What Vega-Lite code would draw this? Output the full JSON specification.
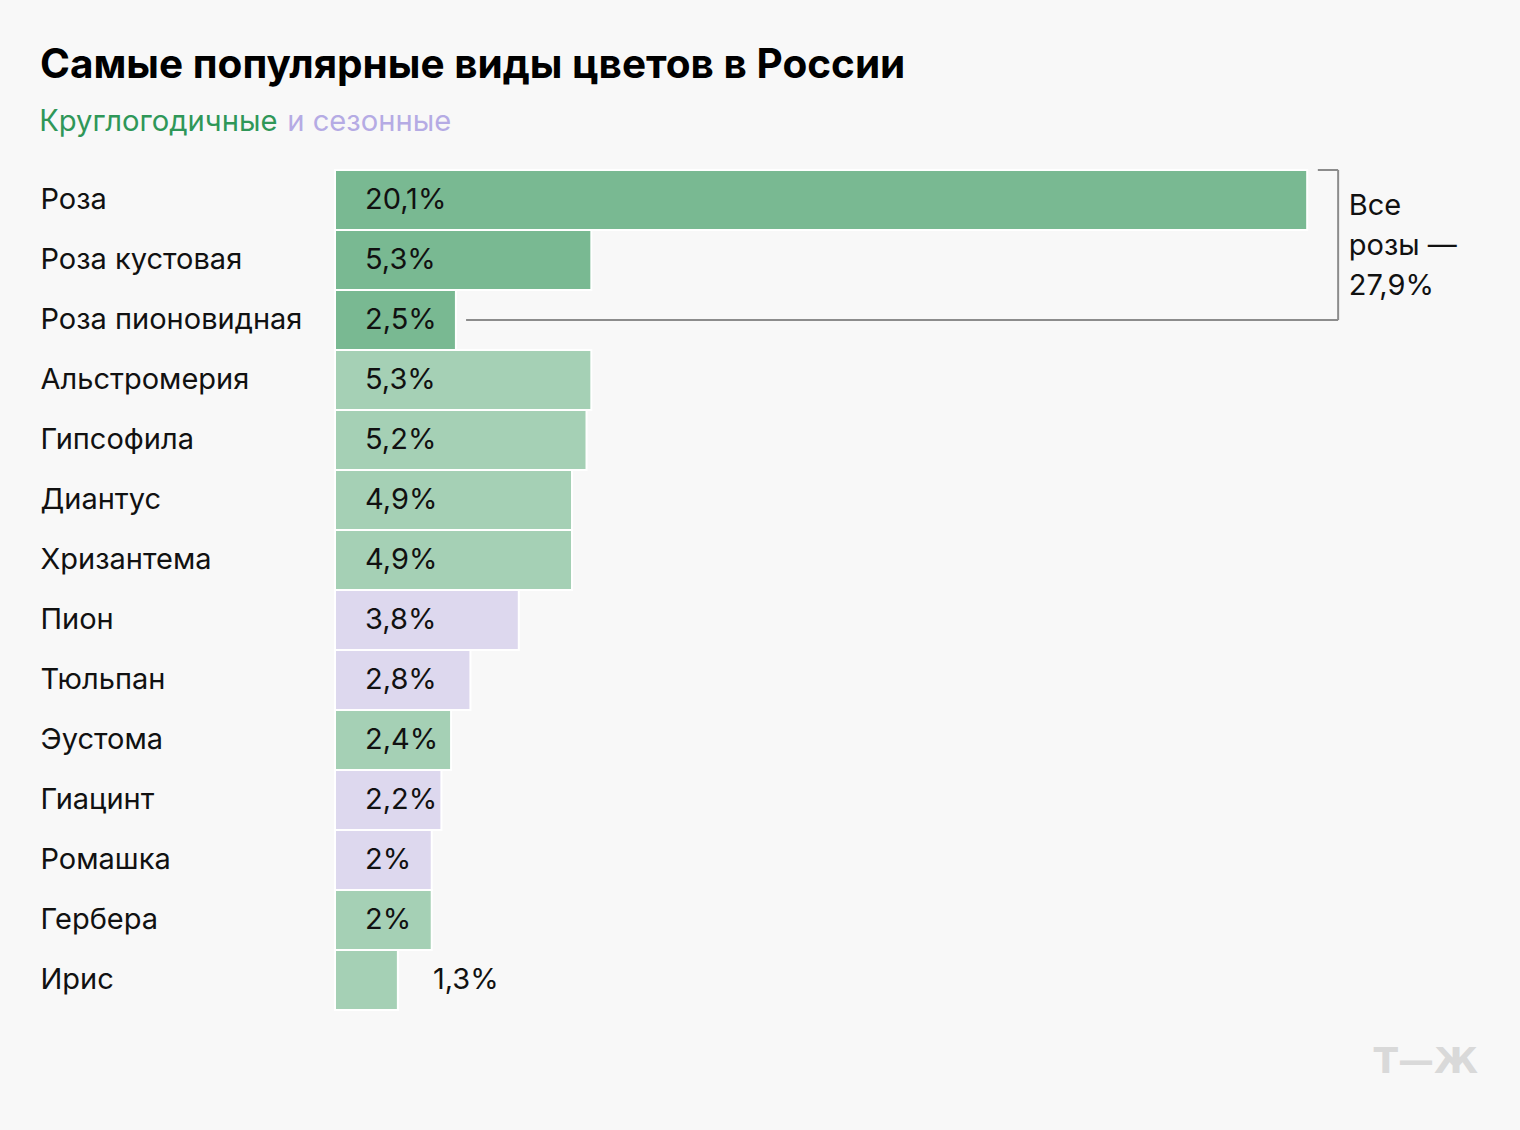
{
  "$schema": "https://vega.github.io/schema/vega-lite/v6.json",
  "width": 1185,
  "height": 840,
  "autosize": {"type": "none"},
  "padding": {"left": 335, "top": 170, "right": 0, "bottom": 120},
  "background": "#f8f8f8",
  "config": {"view": {"stroke": null}, "font": "Inter"},
  "title": {
    "text": "Самые популярные виды цветов в России",
    "anchor": "start",
    "dx": 30,
    "fontSize": 40.5,
    "fontWeight": 700,
    "font": "Inter",
    "color": "#000000",
    "offset": 21
  },
  "data": {
    "values": [
      {"name": "Роза", "value": 20.1, "label": "20,1%", "kind": "Розы"},
      {"name": "Роза кустовая", "value": 5.3, "label": "5,3%", "kind": "Розы"},
      {"name": "Роза пионовидная", "value": 2.5, "label": "2,5%", "kind": "Розы"},
      {"name": "Альстромерия", "value": 5.3, "label": "5,3%", "kind": "Круглогодичные"},
      {"name": "Гипсофила", "value": 5.2, "label": "5,2%", "kind": "Круглогодичные"},
      {"name": "Диантус", "value": 4.9, "label": "4,9%", "kind": "Круглогодичные"},
      {"name": "Хризантема", "value": 4.9, "label": "4,9%", "kind": "Круглогодичные"},
      {"name": "Пион", "value": 3.8, "label": "3,8%", "kind": "и сезонные"},
      {"name": "Тюльпан", "value": 2.8, "label": "2,8%", "kind": "и сезонные"},
      {"name": "Эустома", "value": 2.4, "label": "2,4%", "kind": "Круглогодичные"},
      {"name": "Гиацинт", "value": 2.2, "label": "2,2%", "kind": "и сезонные"},
      {"name": "Ромашка", "value": 2.0, "label": "2%", "kind": "и сезонные"},
      {"name": "Гербера", "value": 2.0, "label": "2%", "kind": "Круглогодичные"},
      {"name": "Ирис", "value": 1.3, "label": "1,3%", "kind": "Круглогодичные"}
    ]
  },
  "encoding": {
    "y": {
      "field": "name",
      "type": "nominal",
      "sort": null,
      "scale": {
        "domain": ["Роза", "Роза кустовая", "Роза пионовидная", "Альстромерия", "Гипсофила", "Диантус", "Хризантема", "Пион", "Тюльпан", "Эустома", "Гиацинт", "Ромашка", "Гербера", "Ирис"],
        "paddingInner": 0,
        "paddingOuter": 0
      },
      "axis": {
        "title": null,
        "domain": false,
        "ticks": false,
        "labelAlign": "left",
        "labelPadding": 295,
        "labelFontSize": 29,
        "labelFont": "Inter",
        "labelColor": "#111111",
        "labelLimit": 0
      }
    }
  },
  "layer": [
    {
      "mark": {"type": "bar", "stroke": "#ffffff", "strokeWidth": 2},
      "encoding": {
        "x": {"field": "value", "type": "quantitative", "scale": {"domain": [0, 24.5], "nice": false, "zero": true}, "axis": null},
        "color": {
          "field": "kind",
          "type": "nominal",
          "scale": {"domain": ["Круглогодичные", "и сезонные", "Розы"], "range": ["#a5d0b5", "#ddd8ee", "#79b992"]},
          "legend": {
            "orient": "none",
            "legendX": -325,
            "legendY": -63,
            "direction": "horizontal",
            "gridAlign": "none",
            "values": ["Круглогодичные", "и сезонные"],
            "title": null,
            "symbolSize": 0,
            "symbolOpacity": 0,
            "symbolStrokeWidth": 0,
            "labelOffset": 0,
            "columnPadding": -20,
            "labelFontSize": 29.2,
            "labelFont": "Inter",
            "labelLimit": 0,
            "labelColor": {"expr": "datum.value === 'Круглогодичные' ? '#2f9758' : '#b5abe4'"}
          }
        }
      }
    },
    {
      "transform": [{"filter": "datum.value >= 2"}],
      "mark": {"type": "text", "align": "left", "baseline": "middle", "dx": 30, "fontSize": 29, "font": "Inter", "color": "#111111"},
      "encoding": {
        "x": {"datum": 0, "type": "quantitative"},
        "text": {"field": "label"}
      }
    },
    {
      "transform": [{"filter": "datum.value < 2"}],
      "mark": {"type": "text", "align": "left", "baseline": "middle", "dx": 35, "fontSize": 29, "font": "Inter", "color": "#111111"},
      "encoding": {
        "x": {"field": "value", "type": "quantitative"},
        "text": {"field": "label"}
      }
    },
    {
      "data": {"values": [{"part": "top"}]},
      "mark": {"type": "rule", "color": "#8c8c8c", "strokeWidth": 2},
      "encoding": {
        "x": {"datum": 20.32, "type": "quantitative"},
        "x2": {"datum": 20.74},
        "y": {"datum": "Роза", "bandPosition": 0}
      }
    },
    {
      "data": {"values": [{"part": "side"}]},
      "mark": {"type": "rule", "color": "#8c8c8c", "strokeWidth": 2},
      "encoding": {
        "x": {"datum": 20.74, "type": "quantitative"},
        "y": {"datum": "Роза", "bandPosition": 0},
        "y2": {"datum": "Роза пионовидная"}
      }
    },
    {
      "data": {"values": [{"part": "bottom"}]},
      "mark": {"type": "rule", "color": "#8c8c8c", "strokeWidth": 2},
      "encoding": {
        "x": {"datum": 2.71, "type": "quantitative"},
        "x2": {"datum": 20.74},
        "y": {"datum": "Роза пионовидная"}
      }
    },
    {
      "data": {"values": [{"note": "Все\nрозы —\n27,9%"}]},
      "mark": {"type": "text", "align": "left", "baseline": "middle", "lineBreak": "\n", "lineHeight": 40, "dy": 6, "fontSize": 29, "font": "Inter", "color": "#111111"},
      "encoding": {
        "x": {"datum": 20.96, "type": "quantitative"},
        "y": {"datum": "Роза"},
        "text": {"field": "note"}
      }
    },
    {
      "data": {"values": [{"logo": "Т—Ж"}]},
      "mark": {"type": "text", "align": "right", "baseline": "middle", "dx": -42, "dy": 82, "fontSize": 36, "fontWeight": 900, "font": "DejaVu Sans", "color": "#d9d9d9"},
      "encoding": {
        "x": {"datum": 24.5, "type": "quantitative"},
        "y": {"datum": "Ирис"},
        "text": {"field": "logo"}
      }
    }
  ]
}
